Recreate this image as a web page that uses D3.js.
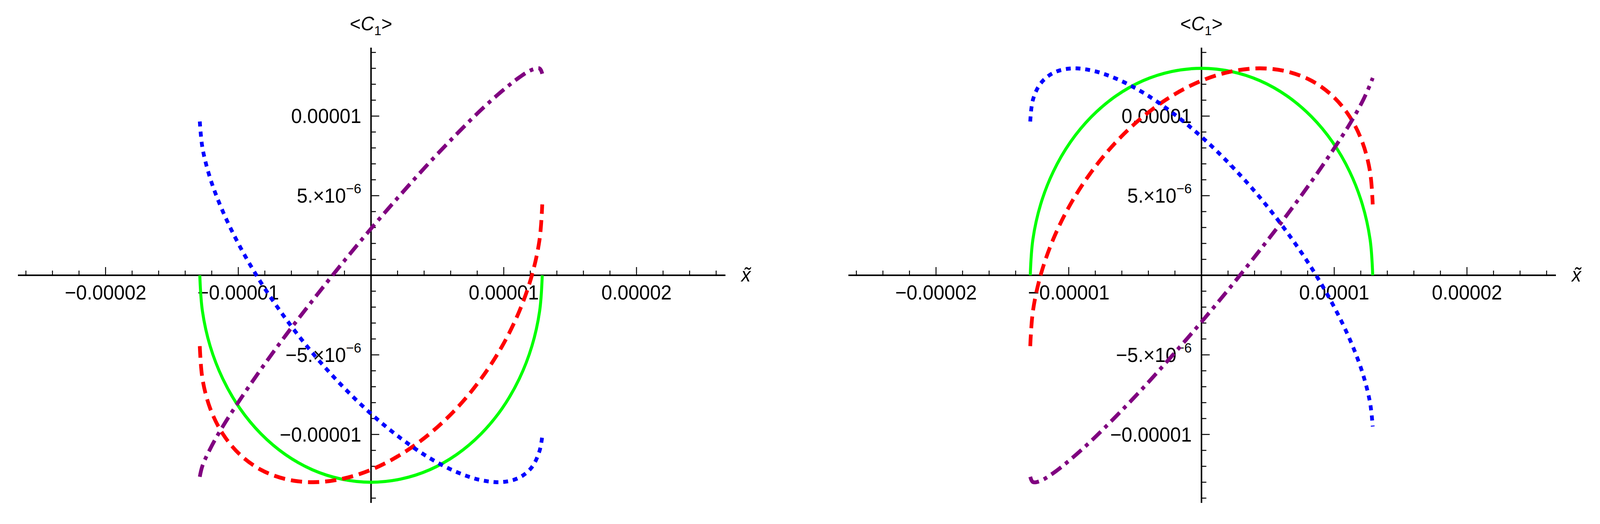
<!DOCTYPE html>
<html>
<head>
<meta charset="utf-8">
<script src="https://cdn.jsdelivr.net/npm/d3@7"></script>
<style>
  html, body { margin: 0; padding: 0; overflow: hidden; background: #ffffff; }
  svg { display: block; font-family: "Liberation Sans", Arial, sans-serif; }
</style>
</head>
<body>
<div id="chart"></div>
<script>
var xs = [-12.9, -12.70, -12.12, -11.17, -9.88, -8.29, -6.45, -4.41, -2.24, 0,
          2.24, 4.41, 6.45, 8.29, 9.88, 11.17, 12.12, 12.70, 12.9];

var leftGreen = [0, -2.26, -4.45, -6.5, -8.36, -9.96, -11.26, -12.22, -12.8, -13.0,
                 -12.8, -12.22, -11.26, -9.96, -8.36, -6.5, -4.45, -2.26, 0];
var leftRed = [-4.45, -6.5, -8.36, -9.96, -11.26, -12.22, -12.8, -13.0, -12.8, -12.22,
               -11.26, -9.96, -8.36, -6.5, -4.45, -2.26, 0, 2.26, 4.45];
var leftBlue = [9.66, 8.01, 6.10, 4.02, 1.81, -0.46, -2.70, -4.88, -6.89, -8.70,
                -10.24, -11.48, -12.36, -12.87, -12.99, -12.71, -12.05, -11.02, -10.1];
var leftPurple = [-12.66, -11.97, -10.91, -9.50, -7.83, -5.90, -3.80, -1.59, 0.68, 2.93,
                  5.08, 7.09, 8.87, 10.39, 11.58, 12.43, 12.91, 12.99, 12.66];

var rightGreen = [0, 2.26, 4.45, 6.5, 8.36, 9.96, 11.26, 12.22, 12.8, 13.0,
                  12.8, 12.22, 11.26, 9.96, 8.36, 6.5, 4.45, 2.26, 0];
var rightRed = [-4.45, -2.26, 0, 2.26, 4.45, 6.5, 8.36, 9.96, 11.26, 12.22,
                12.8, 13.0, 12.8, 12.22, 11.26, 9.96, 8.36, 6.5, 4.45];
var rightBlue = [9.66, 11.02, 12.05, 12.71, 12.99, 12.87, 12.36, 11.48, 10.24, 8.70,
                 6.89, 4.88, 2.70, 0.46, -1.81, -4.02, -6.10, -8.01, -9.5];
var rightPurple = [-12.66, -12.99, -12.91, -12.43, -11.58, -10.39, -8.87, -7.09, -5.08, -2.93,
                   -0.68, 1.59, 3.80, 5.90, 7.83, 9.50, 10.91, 11.97, 12.4];

var xTickLabels = [[-20, "\u22120.00002"], [-10, "\u22120.00001"], [10, "0.00001"], [20, "0.00002"]];
var yTickLabels = [[10, "0.00001"], [5, "5.\u00d710", "\u22126"], [-5, "\u22125.\u00d710", "\u22126"], [-10, "\u22120.00001"]];

var width = 4281, height = 1342;

var svg = d3.select("#chart").append("svg")
    .attr("viewBox", "0 0 " + width + " " + height)
    .attr("preserveAspectRatio", "none")
    .style("width", "100vw")
    .style("height", "100vh");

var styles = {
    green:  { color: "#00ff00", width: 8,  dash: null },
    red:    { color: "#ff0000", width: 10, dash: "30,16" },
    blue:   { color: "#0000ff", width: 10, dash: "13,13" },
    purple: { color: "#800080", width: 10, dash: "32,14,10,14" }
};

function drawPanel(cx, series) {

    var x = d3.scaleLinear().domain([-26.6, 26.7]).range([cx - 944, cx + 949]);
    var y = d3.scaleLinear().domain([-14.3, 14.3]).range([1288, 122]);
    var zeroY = y(0);

    var g = svg.append("g");
    var axes = g.append("g");

    // x axis
    axes.append("line")
        .attr("x1", x.range()[0]).attr("x2", x.range()[1])
        .attr("y1", zeroY).attr("y2", zeroY)
        .attr("stroke", "#000").attr("stroke-width", 4);

    d3.range(-26, 27, 2).forEach(function(t) {
        if (t === 0) return;
        var major = t % 10 === 0;
        axes.append("line")
            .attr("x1", x(t)).attr("x2", x(t))
            .attr("y1", zeroY).attr("y2", zeroY - (major ? 21 : 12))
            .attr("stroke", "#000").attr("stroke-width", 2.5);
    });

    xTickLabels.forEach(function(d) {
        axes.append("text")
            .attr("x", x(d[0]))
            .attr("y", zeroY + 62)
            .attr("text-anchor", "middle")
            .attr("font-size", "52px")
            .text(d[1]);
    });

    // y axis
    axes.append("line")
        .attr("x1", x(0)).attr("x2", x(0))
        .attr("y1", y.range()[1]).attr("y2", y.range()[0])
        .attr("stroke", "#000").attr("stroke-width", 4);

    d3.range(-14, 15, 1).forEach(function(t) {
        if (t === 0) return;
        var major = t % 5 === 0;
        axes.append("line")
            .attr("x1", x(0)).attr("x2", x(0) + (major ? 22 : 13))
            .attr("y1", y(t)).attr("y2", y(t))
            .attr("stroke", "#000").attr("stroke-width", 2.5);
    });

    yTickLabels.forEach(function(d) {
        var txt = axes.append("text")
            .attr("x", x(0) - 26)
            .attr("y", y(d[0]) + 18)
            .attr("text-anchor", "end")
            .attr("font-size", "52px");
        txt.append("tspan").text(d[1]);
        if (d[2]) {
            txt.append("tspan")
                .attr("dy", -24)
                .attr("font-size", "36px")
                .text(d[2]);
        }
    });

    // axis labels
    var yl = axes.append("text")
        .attr("x", x(0))
        .attr("y", 78)
        .attr("text-anchor", "middle")
        .attr("font-size", "50px");
    yl.append("tspan").text("<");
    yl.append("tspan").attr("font-style", "italic").text("C");
    yl.append("tspan").attr("font-size", "34px").attr("dy", 12).text("1");
    yl.append("tspan").attr("dy", -12).text(">");

    axes.append("text")
        .attr("x", x.range()[1] + 55)
        .attr("y", zeroY + 16)
        .attr("text-anchor", "middle")
        .attr("font-size", "50px")
        .attr("font-style", "italic")
        .text("x\u0303");

    var line = d3.line()
        .x(function(d) { return x(d[0]); })
        .y(function(d) { return y(d[1]); })
        .curve(d3.curveCatmullRom.alpha(0.5));

    series.forEach(function(s) {
        var st = styles[s.style];
        g.append("path")
            .datum(xs.map(function(v, i) { return [v, s.values[i]]; }))
            .attr("d", line)
            .attr("fill", "none")
            .attr("stroke", st.color)
            .attr("stroke-width", st.width)
            .attr("stroke-dasharray", st.dash);
    });
}

drawPanel(992, [
    { style: "green", values: leftGreen },
    { style: "red", values: leftRed },
    { style: "blue", values: leftBlue },
    { style: "purple", values: leftPurple }
]);

drawPanel(3214, [
    { style: "green", values: rightGreen },
    { style: "red", values: rightRed },
    { style: "blue", values: rightBlue },
    { style: "purple", values: rightPurple }
]);
</script>
</body>
</html>
